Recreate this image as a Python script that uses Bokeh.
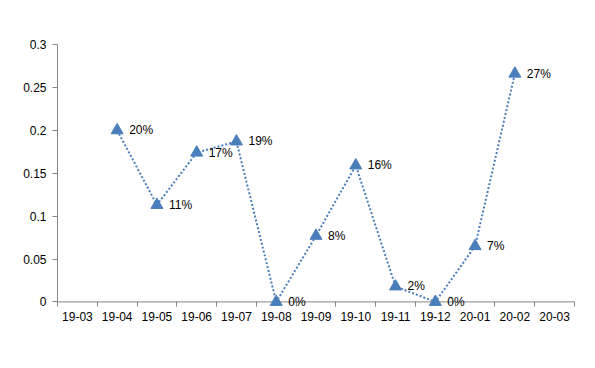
from bokeh.plotting import figure
from bokeh.models import ColumnDataSource, FixedTicker, CustomJSTickFormatter, Range1d, Span
from bokeh.core.properties import value
from bokeh.embed import file_html
from bokeh.resources import INLINE

categories = ["19-03", "19-04", "19-05", "19-06", "19-07", "19-08", "19-09",
              "19-10", "19-11", "19-12", "20-01", "20-02", "20-03"]
values = [None, 0.200, 0.113, 0.174, 0.187, 0.0, 0.077, 0.159, 0.018, 0.0, 0.065, 0.266, None]
labels = ["", "20%", "11%", "17%", "19%", "0%", "8%", "16%", "2%", "0%", "7%", "27%", ""]
y_ticks = [0, 0.05, 0.1, 0.15, 0.2, 0.25, 0.3]

xs = [i + 0.5 for i, v in enumerate(values) if v is not None]
ys = [v for v in values if v is not None]
ls = [labels[i] for i, v in enumerate(values) if v is not None]
src = ColumnDataSource(dict(x=xs, y=ys, label=ls))

color = "#4A7EBB"
axis_color = "#868686"
font = "Liberation Sans"

p = figure(frame_width=517, frame_height=266, output_backend="svg", toolbar_location=None,
           x_range=Range1d(0, len(categories)), y_range=Range1d(-0.01, 0.3),
           min_border_left=57, min_border_top=44, min_border_right=13, min_border_bottom=40)
p.outline_line_color = None
p.grid.visible = False
p.background_fill_color = "white"
p.border_fill_color = "white"

# category axis line at zero
p.add_layout(Span(location=0, dimension="width", line_color=axis_color, line_width=1, level="underlay"))

p.line("x", "y", source=src, line_color=color, line_width=2, line_dash="2 2")
p.scatter("x", "y", source=src, marker="triangle", size=12, fill_color=color, line_color=color)
p.text("x", "y", text="label", source=src, x_offset=12, text_baseline="middle",
       text_align="left", text_font_size="12px", text_font=value(font), text_color="black")

# x axis
xa = p.xaxis[0]
xa.ticker = FixedTicker(ticks=[i + 0.5 for i in range(len(categories))],
                        minor_ticks=list(range(len(categories) + 1)))
xa.formatter = CustomJSTickFormatter(args=dict(cats=categories),
                                     code="return cats[Math.floor(tick)];")
xa.major_tick_line_color = None
xa.major_tick_in = 0
xa.major_tick_out = 0
xa.minor_tick_line_color = axis_color
xa.minor_tick_in = 9
xa.minor_tick_out = -4
xa.axis_line_color = None
xa.major_label_text_font = font
xa.major_label_text_font_size = "12px"
xa.major_label_text_color = "black"
xa.major_label_standoff = 1

ya = p.yaxis[0]
ya.ticker = FixedTicker(ticks=y_ticks, minor_ticks=[])
ya.formatter = CustomJSTickFormatter(code="return parseFloat(tick.toFixed(2)).toString();")
ya.bounds = (0, 0.3)
ya.axis_line_color = axis_color
ya.major_tick_line_color = axis_color
ya.major_tick_in = 0
ya.major_tick_out = 5
ya.minor_tick_line_color = None
ya.major_label_text_font = font
ya.major_label_text_font_size = "12px"
ya.major_label_text_color = "black"
ya.major_label_standoff = 6

open("out.html", "w").write(file_html(p, INLINE))
